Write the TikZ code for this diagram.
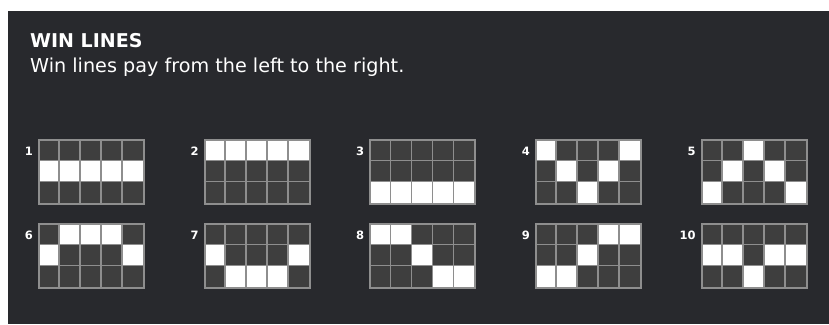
\documentclass[tikz,border=0pt]{standalone}
\usepackage{fontspec}
\setmainfont{DejaVu Sans}
\definecolor{bg}{HTML}{28292D}
\definecolor{celldark}{HTML}{3E3E3E}
\definecolor{gridline}{HTML}{8E8E8E}
\tikzset{
  gridbox/.style={draw=gridline, line width=2pt, minimum width=105pt, minimum height=64pt, anchor=north west, inner sep=0pt},
  gridrule/.style={draw=gridline, line width=1.6pt},
  numlabel/.style={anchor=east, text=white, inner sep=0pt, font=\bfseries\fontsize{11.5}{12}\selectfont}
}
\begin{document}
\begin{tikzpicture}[x=1pt,y=-1pt]
\useasboundingbox (0,0) rectangle (829,324);
\fill[white] (0,0) rectangle (829,324);
\fill[bg] (8,11) rectangle (829,324);
\node[anchor=base west, inner sep=0pt, text=white, font=\bfseries\fontsize{19}{21}\selectfont] (title) at (30,47) {WIN LINES};
\node[anchor=base west, inner sep=0pt, text=white, font=\fontsize{19.2}{22}\selectfont] (sub) at (30,72) {Win lines pay from the left to the right.};
\foreach \n/\i/\j/\a/\b/\c/\d/\e in {
  1/0/0/2/2/2/2/2, 2/1/0/1/1/1/1/1, 3/2/0/3/3/3/3/3, 4/3/0/1/2/3/2/1, 5/4/0/3/2/1/2/3,
  6/0/1/2/1/1/1/2, 7/1/1/2/3/3/3/2, 8/2/1/1/1/2/3/3, 9/3/1/3/3/2/1/1, 10/4/1/2/2/3/2/2}{
  \pgfmathsetmacro\gx{38+165.7*\i}
  \pgfmathsetmacro\gy{139+84*\j}
  \fill[celldark] (\gx,\gy) rectangle ++(105,64);
  \foreach \r [count=\k from 0] in {\a,\b,\c,\d,\e}
    \fill[white] ({\gx+21*\k},{\gy+64/3*(\r-1)}) rectangle ++(21,64/3);
  \foreach \k in {1,2,3,4}
    \draw[gridrule] ({\gx+21*\k},\gy) -- ++(0,64);
  \foreach \k in {1,2}
    \draw[gridrule] (\gx,{\gy+64/3*\k}) -- ++(105,0);
  \node[gridbox] (g\n) at (\gx,\gy) {};
  \node[numlabel] (num\n) at ([xshift=-5pt, yshift=-12pt]g\n.north west) {\n};
}
\end{tikzpicture}
\end{document}
